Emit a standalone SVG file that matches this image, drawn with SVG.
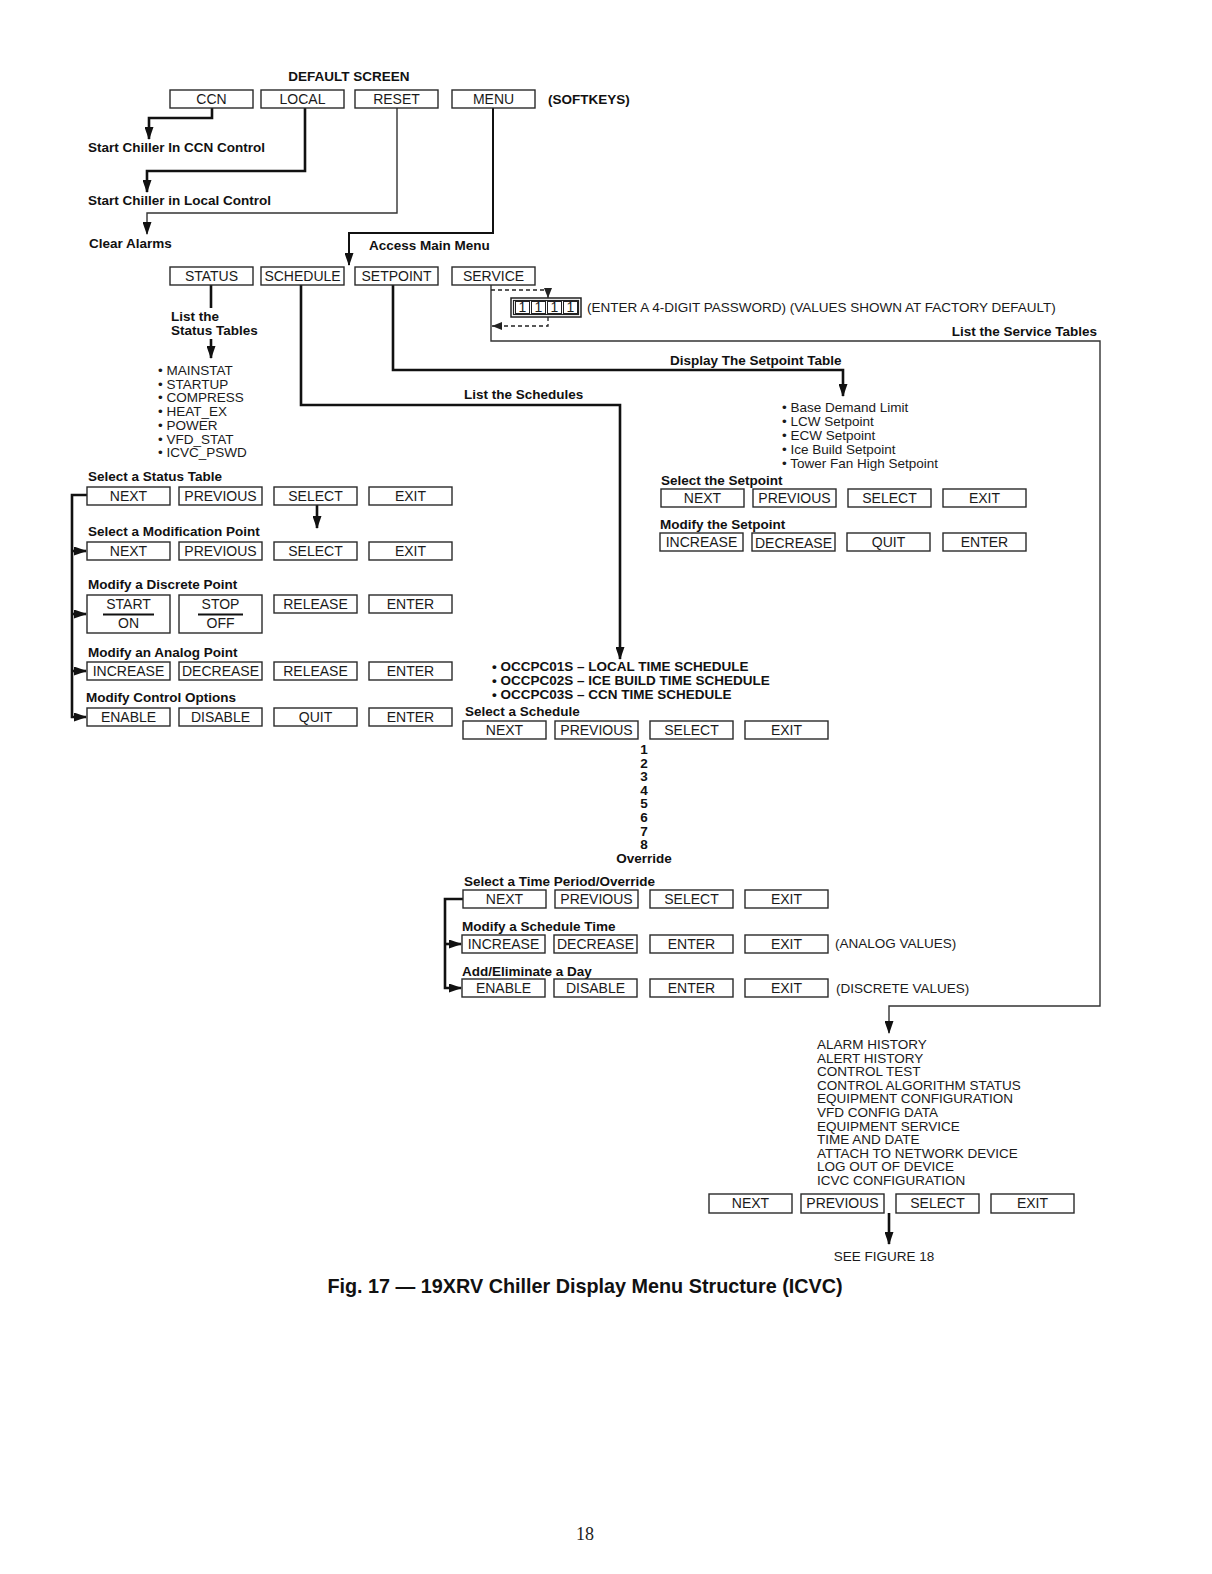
<svg xmlns="http://www.w3.org/2000/svg" width="1212" height="1574" viewBox="0 0 1212 1574">
<defs>
<marker id="ar" markerUnits="userSpaceOnUse" markerWidth="13" markerHeight="9" refX="12" refY="4.5" orient="auto"><path d="M0,0 L13,4.5 L0,9 z" fill="#111"/></marker>
<marker id="ars" markerUnits="userSpaceOnUse" markerWidth="10" markerHeight="8" refX="10" refY="4" orient="auto"><path d="M0,0 L10,4 L0,8 z" fill="#222"/></marker>
</defs>
<style>
.box{fill:#fff;stroke:#2a2a2a;stroke-width:1.4}
.bt{font-family:"Liberation Sans",Arial,sans-serif;font-size:14px;text-anchor:middle;fill:#1a1a1a}
.lb{font-family:"Liberation Sans",Arial,sans-serif;font-size:13.5px;font-weight:bold;fill:#111}
.tx{font-family:"Liberation Sans",Arial,sans-serif;font-size:13.5px;fill:#1a1a1a}
.num{font-family:"Liberation Sans",Arial,sans-serif;font-size:13.5px;font-weight:bold;fill:#111;text-anchor:middle}
.k{fill:none;stroke:#111;stroke-width:2.6}
.m{fill:none;stroke:#111;stroke-width:2}
.t{fill:none;stroke:#333;stroke-width:1.4}
.d{fill:none;stroke:#222;stroke-width:1.3;stroke-dasharray:4,3}
</style>
<rect width="1212" height="1574" fill="#fff"/>

<g id="connectors">
<path class="k" d="M212,108 V118 H149 V139" marker-end="url(#ar)"/>
<path class="k" d="M305,108 V171 H147 V192" marker-end="url(#ar)"/>
<path class="t" d="M397,108 V213 H147 V234" marker-end="url(#ar)"/>
<path class="m" d="M493,108 V233 H349 V265" marker-end="url(#ar)"/>
<path class="k" d="M211,285 V308"/>
<path class="k" d="M211,339 V358" marker-end="url(#ar)"/>
<path class="k" d="M301,285 V405 H620 V659" marker-end="url(#ar)"/>
<path class="k" d="M393,285 V370 H843 V396" marker-end="url(#ar)"/>
<path class="t" d="M491,285 V341 H1100 V1006 H889 V1033" marker-end="url(#ar)"/>
<path class="d" d="M491,290 H548 V298" marker-end="url(#ars)"/>
<path class="d" d="M548,317 V326 H492" marker-end="url(#ars)"/>
<path class="k" d="M317,505 V528" marker-end="url(#ar)"/>
<path class="k" d="M87,495 H72 V717 H86" marker-end="url(#ar)"/>
<path class="k" d="M72,551 H86" marker-end="url(#ar)"/>
<path class="k" d="M72,614 H86" marker-end="url(#ar)"/>
<path class="k" d="M72,671 H86" marker-end="url(#ar)"/>
<path class="k" d="M463,899 H445 V988 H461" marker-end="url(#ar)"/>
<path class="k" d="M445,944 H461" marker-end="url(#ar)"/>
<path class="k" d="M889,1213 V1244" marker-end="url(#ar)"/>
</g>

<g id="labels">
<text class="lb" x="349" y="81" text-anchor="middle">DEFAULT SCREEN</text>
<text class="lb" x="548" y="104">(SOFTKEYS)</text>
<text class="lb" x="88" y="152">Start Chiller In CCN Control</text>
<text class="lb" x="88" y="205">Start Chiller in Local Control</text>
<text class="lb" x="89" y="248">Clear Alarms</text>
<text class="lb" x="369" y="250">Access Main Menu</text>
<text class="lb" x="171" y="321">List the</text>
<text class="lb" x="171" y="335">Status Tables</text>
<text class="lb" x="464" y="399">List the Schedules</text>
<text class="lb" x="670" y="365">Display The Setpoint Table</text>
<text class="lb" x="1097" y="336" text-anchor="end">List the Service Tables</text>
<text class="tx" x="587" y="312">(ENTER A 4-DIGIT PASSWORD) (VALUES SHOWN AT FACTORY DEFAULT)</text>
</g>

<g id="status-list" class="tx">
<text x="158" y="375">• MAINSTAT</text>
<text x="158" y="388.7">• STARTUP</text>
<text x="158" y="402.4">• COMPRESS</text>
<text x="158" y="416.1">• HEAT_EX</text>
<text x="158" y="429.8">• POWER</text>
<text x="158" y="443.5">• VFD_STAT</text>
<text x="158" y="457.2">• ICVC_PSWD</text>
</g>

<g id="setpoint-list" class="tx">
<text x="782" y="412">• Base Demand Limit</text>
<text x="782" y="426">• LCW Setpoint</text>
<text x="782" y="440">• ECW Setpoint</text>
<text x="782" y="454">• Ice Build Setpoint</text>
<text x="782" y="468">• Tower Fan High Setpoint</text>
</g>

<g id="schedule-list" class="lb">
<text x="492" y="671">• OCCPC01S – LOCAL TIME SCHEDULE</text>
<text x="492" y="685">• OCCPC02S –  ICE BUILD TIME SCHEDULE</text>
<text x="492" y="699">• OCCPC03S – CCN TIME SCHEDULE</text>
</g>

<g id="period-list" class="num">
<text x="644" y="754">1</text>
<text x="644" y="767.6">2</text>
<text x="644" y="781.2">3</text>
<text x="644" y="794.8">4</text>
<text x="644" y="808.4">5</text>
<text x="644" y="822">6</text>
<text x="644" y="835.6">7</text>
<text x="644" y="849.2">8</text>
<text x="644" y="863">Override</text>
</g>

<g id="service-list" class="tx">
<text x="817" y="1049">ALARM HISTORY</text>
<text x="817" y="1062.6">ALERT HISTORY</text>
<text x="817" y="1076.2">CONTROL TEST</text>
<text x="817" y="1089.8">CONTROL ALGORITHM STATUS</text>
<text x="817" y="1103.4">EQUIPMENT CONFIGURATION</text>
<text x="817" y="1117">VFD CONFIG DATA</text>
<text x="817" y="1130.6">EQUIPMENT SERVICE</text>
<text x="817" y="1144.2">TIME AND DATE</text>
<text x="817" y="1157.8">ATTACH TO NETWORK DEVICE</text>
<text x="817" y="1171.4">LOG OUT OF DEVICE</text>
<text x="817" y="1185">ICVC CONFIGURATION</text>
</g>

<!-- softkeys row 1 -->
<g id="k-ccn"><rect class="box" x="170" y="90" width="83" height="18"/><text class="bt" x="211.5" y="104">CCN</text></g>
<g id="k-local"><rect class="box" x="261" y="90" width="83" height="18"/><text class="bt" x="302.5" y="104">LOCAL</text></g>
<g id="k-reset"><rect class="box" x="355" y="90" width="83" height="18"/><text class="bt" x="396.5" y="104">RESET</text></g>
<g id="k-menu"><rect class="box" x="452" y="90" width="83" height="18"/><text class="bt" x="493.5" y="104">MENU</text></g>

<!-- main menu row -->
<g id="k-status"><rect class="box" x="170" y="267" width="83" height="18"/><text class="bt" x="211.5" y="281">STATUS</text></g>
<g id="k-schedule"><rect class="box" x="261" y="267" width="83" height="18"/><text class="bt" x="302.5" y="281">SCHEDULE</text></g>
<g id="k-setpoint"><rect class="box" x="355" y="267" width="83" height="18"/><text class="bt" x="396.5" y="281">SETPOINT</text></g>
<g id="k-service"><rect class="box" x="452" y="267" width="83" height="18"/><text class="bt" x="493.5" y="281">SERVICE</text></g>

<g id="password">
<rect x="511" y="298" width="70" height="19" fill="#fff" stroke="#222" stroke-width="1.5"/>
<rect x="513.5" y="300.5" width="65" height="14" fill="none" stroke="#222" stroke-width="1.2"/>
<rect x="515.5" y="301.5" width="14" height="12" fill="none" stroke="#222" stroke-width="1"/>
<rect x="531.5" y="301.5" width="14" height="12" fill="none" stroke="#222" stroke-width="1"/>
<rect x="547.5" y="301.5" width="14" height="12" fill="none" stroke="#222" stroke-width="1"/>
<rect x="563.5" y="301.5" width="14" height="12" fill="none" stroke="#222" stroke-width="1"/>
<text class="bt" x="522.5" y="312" font-size="12">1</text>
<text class="bt" x="538.5" y="312" font-size="12">1</text>
<text class="bt" x="554.5" y="312" font-size="12">1</text>
<text class="bt" x="570.5" y="312" font-size="12">1</text>
</g>

<!-- status section -->
<g id="status-table">
<text class="lb" x="88" y="481">Select a Status Table</text>
<g id="st1-next"><rect class="box" x="87" y="487" width="83" height="18"/><text class="bt" x="128.5" y="501">NEXT</text></g>
<g id="st1-prev"><rect class="box" x="179" y="487" width="83" height="18"/><text class="bt" x="220.5" y="501">PREVIOUS</text></g>
<g id="st1-sel"><rect class="box" x="274" y="487" width="83" height="18"/><text class="bt" x="315.5" y="501">SELECT</text></g>
<g id="st1-exit"><rect class="box" x="369" y="487" width="83" height="18"/><text class="bt" x="410.5" y="501">EXIT</text></g>
</g>
<g id="mod-point">
<text class="lb" x="88" y="536">Select a Modification Point</text>
<g id="st2-next"><rect class="box" x="87" y="542" width="83" height="18"/><text class="bt" x="128.5" y="556">NEXT</text></g>
<g id="st2-prev"><rect class="box" x="179" y="542" width="83" height="18"/><text class="bt" x="220.5" y="556">PREVIOUS</text></g>
<g id="st2-sel"><rect class="box" x="274" y="542" width="83" height="18"/><text class="bt" x="315.5" y="556">SELECT</text></g>
<g id="st2-exit"><rect class="box" x="369" y="542" width="83" height="18"/><text class="bt" x="410.5" y="556">EXIT</text></g>
</g>
<g id="discrete">
<text class="lb" x="88" y="589">Modify a Discrete Point</text>
<g id="st3-start"><rect class="box" x="87" y="595" width="83" height="38"/><text class="bt" x="128.5" y="609">START</text><line x1="103" y1="614.5" x2="154" y2="614.5" stroke="#111" stroke-width="2"/><text class="bt" x="128.5" y="628">ON</text></g>
<g id="st3-stop"><rect class="box" x="179" y="595" width="83" height="38"/><text class="bt" x="220.5" y="609">STOP</text><line x1="198" y1="614.5" x2="243" y2="614.5" stroke="#111" stroke-width="2"/><text class="bt" x="220.5" y="628">OFF</text></g>
<g id="st3-rel"><rect class="box" x="274" y="595" width="83" height="18"/><text class="bt" x="315.5" y="609">RELEASE</text></g>
<g id="st3-ent"><rect class="box" x="369" y="595" width="83" height="18"/><text class="bt" x="410.5" y="609">ENTER</text></g>
</g>
<g id="analog">
<text class="lb" x="88" y="657">Modify an Analog Point</text>
<g id="st4-inc"><rect class="box" x="87" y="662" width="83" height="18"/><text class="bt" x="128.5" y="676">INCREASE</text></g>
<g id="st4-dec"><rect class="box" x="179" y="662" width="83" height="18"/><text class="bt" x="220.5" y="676">DECREASE</text></g>
<g id="st4-rel"><rect class="box" x="274" y="662" width="83" height="18"/><text class="bt" x="315.5" y="676">RELEASE</text></g>
<g id="st4-ent"><rect class="box" x="369" y="662" width="83" height="18"/><text class="bt" x="410.5" y="676">ENTER</text></g>
</g>
<g id="control-options">
<text class="lb" x="86" y="702">Modify Control Options</text>
<g id="st5-en"><rect class="box" x="87" y="708" width="83" height="18"/><text class="bt" x="128.5" y="722">ENABLE</text></g>
<g id="st5-dis"><rect class="box" x="179" y="708" width="83" height="18"/><text class="bt" x="220.5" y="722">DISABLE</text></g>
<g id="st5-quit"><rect class="box" x="274" y="708" width="83" height="18"/><text class="bt" x="315.5" y="722">QUIT</text></g>
<g id="st5-ent"><rect class="box" x="369" y="708" width="83" height="18"/><text class="bt" x="410.5" y="722">ENTER</text></g>
</g>

<!-- setpoint section -->
<g id="select-setpoint">
<text class="lb" x="661" y="485">Select the Setpoint</text>
<g id="sp1-next"><rect class="box" x="661" y="489" width="83" height="18"/><text class="bt" x="702.5" y="503">NEXT</text></g>
<g id="sp1-prev"><rect class="box" x="753" y="489" width="83" height="18"/><text class="bt" x="794.5" y="503">PREVIOUS</text></g>
<g id="sp1-sel"><rect class="box" x="848" y="489" width="83" height="18"/><text class="bt" x="889.5" y="503">SELECT</text></g>
<g id="sp1-exit"><rect class="box" x="943" y="489" width="83" height="18"/><text class="bt" x="984.5" y="503">EXIT</text></g>
</g>
<g id="modify-setpoint">
<text class="lb" x="660" y="529">Modify the Setpoint</text>
<g id="sp2-inc"><rect class="box" x="660" y="533" width="83" height="18"/><text class="bt" x="701.5" y="547">INCREASE</text></g>
<g id="sp2-dec"><rect class="box" x="752" y="533" width="83" height="18"/><text class="bt" x="793.5" y="548">DECREASE</text></g>
<g id="sp2-quit"><rect class="box" x="847" y="533" width="83" height="18"/><text class="bt" x="888.5" y="547">QUIT</text></g>
<g id="sp2-ent"><rect class="box" x="943" y="533" width="83" height="18"/><text class="bt" x="984.5" y="547">ENTER</text></g>
</g>

<!-- schedule section -->
<g id="select-schedule">
<text class="lb" x="465" y="716">Select a Schedule</text>
<g id="sc1-next"><rect class="box" x="463" y="721" width="83" height="18"/><text class="bt" x="504.5" y="735">NEXT</text></g>
<g id="sc1-prev"><rect class="box" x="555" y="721" width="83" height="18"/><text class="bt" x="596.5" y="735">PREVIOUS</text></g>
<g id="sc1-sel"><rect class="box" x="650" y="721" width="83" height="18"/><text class="bt" x="691.5" y="735">SELECT</text></g>
<g id="sc1-exit"><rect class="box" x="745" y="721" width="83" height="18"/><text class="bt" x="786.5" y="735">EXIT</text></g>
</g>
<g id="select-period">
<text class="lb" x="464" y="886">Select a Time Period/Override</text>
<g id="sc2-next"><rect class="box" x="463" y="890" width="83" height="18"/><text class="bt" x="504.5" y="904">NEXT</text></g>
<g id="sc2-prev"><rect class="box" x="555" y="890" width="83" height="18"/><text class="bt" x="596.5" y="904">PREVIOUS</text></g>
<g id="sc2-sel"><rect class="box" x="650" y="890" width="83" height="18"/><text class="bt" x="691.5" y="904">SELECT</text></g>
<g id="sc2-exit"><rect class="box" x="745" y="890" width="83" height="18"/><text class="bt" x="786.5" y="904">EXIT</text></g>
</g>
<g id="modify-time">
<text class="lb" x="462" y="931">Modify a Schedule Time</text>
<g id="sc3-inc"><rect class="box" x="462" y="935" width="83" height="18"/><text class="bt" x="503.5" y="949">INCREASE</text></g>
<g id="sc3-dec"><rect class="box" x="554" y="935" width="83" height="18"/><text class="bt" x="595.5" y="949">DECREASE</text></g>
<g id="sc3-ent"><rect class="box" x="650" y="935" width="83" height="18"/><text class="bt" x="691.5" y="949">ENTER</text></g>
<g id="sc3-exit"><rect class="box" x="745" y="935" width="83" height="18"/><text class="bt" x="786.5" y="949">EXIT</text></g>
<text class="tx" x="835" y="948">(ANALOG VALUES)</text>
</g>
<g id="add-day">
<text class="lb" x="462" y="976">Add/Eliminate a Day</text>
<g id="sc4-en"><rect class="box" x="462" y="979" width="83" height="18"/><text class="bt" x="503.5" y="993">ENABLE</text></g>
<g id="sc4-dis"><rect class="box" x="554" y="979" width="83" height="18"/><text class="bt" x="595.5" y="993">DISABLE</text></g>
<g id="sc4-ent"><rect class="box" x="650" y="979" width="83" height="18"/><text class="bt" x="691.5" y="993">ENTER</text></g>
<g id="sc4-exit"><rect class="box" x="745" y="979" width="83" height="18"/><text class="bt" x="786.5" y="993">EXIT</text></g>
<text class="tx" x="836" y="993">(DISCRETE VALUES)</text>
</g>

<!-- service section -->
<g id="service-keys">
<g id="sv-next"><rect class="box" x="709" y="1194" width="83" height="19"/><text class="bt" x="750.5" y="1208">NEXT</text></g>
<g id="sv-prev"><rect class="box" x="801" y="1194" width="83" height="19"/><text class="bt" x="842.5" y="1208">PREVIOUS</text></g>
<g id="sv-sel"><rect class="box" x="896" y="1194" width="83" height="19"/><text class="bt" x="937.5" y="1208">SELECT</text></g>
<g id="sv-exit"><rect class="box" x="991" y="1194" width="83" height="19"/><text class="bt" x="1032.5" y="1208">EXIT</text></g>
</g>
<text class="tx" x="884" y="1261" text-anchor="middle">SEE FIGURE 18</text>

<text x="585" y="1293" text-anchor="middle" font-family="'Liberation Sans',Arial,sans-serif" font-size="19.8" font-weight="bold" fill="#111">Fig. 17 — 19XRV Chiller Display Menu Structure (ICVC)</text>
<text x="585" y="1540" text-anchor="middle" font-family="'Liberation Serif','Times New Roman',serif" font-size="18" fill="#222">18</text>
</svg>
